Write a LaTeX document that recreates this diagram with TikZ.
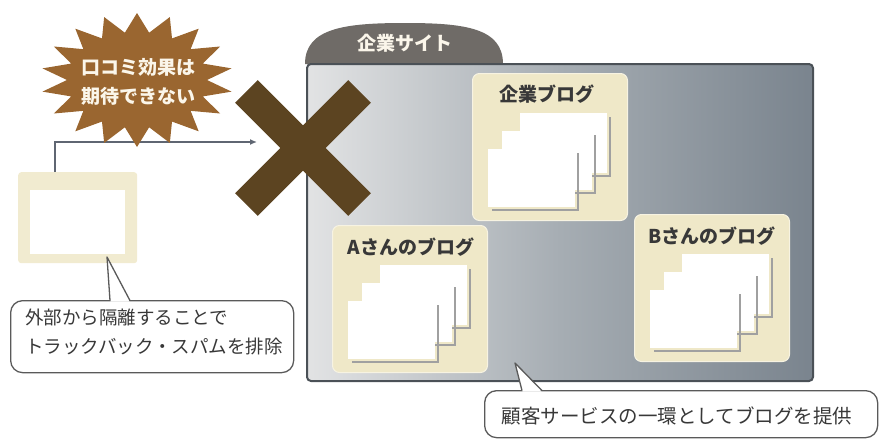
\documentclass[tikz,border=0pt]{standalone}
\usepackage{fontspec}
\newfontfamily\cjk{Noto Sans CJK JP}
\usetikzlibrary{arrows.meta}
\definecolor{burstc}{HTML}{9A6630}
\definecolor{xcol}{HTML}{5C4421}
\definecolor{tabc}{HTML}{6F6B67}
\definecolor{siteborder}{HTML}{4B5157}
\definecolor{siteleft}{HTML}{E2E3E4}
\definecolor{sitemid}{HTML}{A6ADB3}
\definecolor{siteright}{HTML}{7A848E}
\definecolor{cream}{HTML}{EFE8C8}
\definecolor{creamedge}{HTML}{F7F3E2}
\definecolor{shadowc}{HTML}{A0A0A0}
\definecolor{arrowc}{HTML}{5F6672}
\definecolor{calloutc}{HTML}{5A5A5A}
\definecolor{textc}{HTML}{383838}
\definecolor{lighttext}{HTML}{FBF6EA}
\tikzset{
  panel/.style={fill=cream, draw=creamedge, line width=1pt, rounded corners=7pt,
    minimum width=155pt, minimum height=147pt, anchor=north west, inner sep=0pt},
  paneltitle/.style={font=\cjk\bfseries\fontsize{19}{22}\selectfont, text=textc, inner sep=0pt},
  shadowline/.style={draw=shadowc, line width=1.8pt},
  callout/.style={fill=white, draw=calloutc, line width=1.3pt, rounded corners=12pt, inner sep=0pt},
  callouttext/.style={font=\cjk\fontsize{18.5}{29}\selectfont, text=textc, inner sep=0pt},
  pages/.pic={
    \fill[white] (48,40) rectangle (135,100);
    \draw[shadowline] (138,44) -- (138,103) -- (52,103);
    \fill[white] (30,58) rectangle (120,117);
    \draw[shadowline] (123,62) -- (123,120) -- (34,120);
    \fill[white] (16,76) rectangle (103,134);
    \draw[shadowline] (106,80) -- (106,137) -- (20,137);
  }
}
\begin{document}
\begin{tikzpicture}[x=1pt,y=-1pt]
\useasboundingbox (0,0) rectangle (880,439);

% ---------- site tab and site box ----------
\fill[tabc] (305,64) .. controls (305,28) and (345,23) .. (405,23)
  .. controls (465,23) and (503,28) .. (503,64) -- cycle;
\node[text=lighttext, font=\cjk\bfseries\fontsize{19}{22}\selectfont, inner sep=0pt] (tabt) at (405,43) {企業サイト};
\node[anchor=north west, minimum width=506pt, minimum height=317pt, inner sep=0pt,
  rounded corners=4pt, draw=siteborder, line width=2pt,
  left color=siteleft, right color=siteright, middle color=sitemid] (site) at (306,63) {};

% ---------- blog panels ----------
\node[panel] (pk) at (472,73) {};
\pic at (pk.north west) {pages};
\node[paneltitle] (pkt) at ([shift={(75,21)}]pk.north west) {企業ブログ};

\node[panel] (pa) at (332,225) {};
\pic at (pa.north west) {pages};
\node[paneltitle] (pat) at ([shift={(79,22)}]pa.north west) {Aさんのブログ};

\node[panel] (pb) at (634,214) {};
\pic at (pb.north west) {pages};
\node[paneltitle] (pbt) at ([shift={(78,22)}]pb.north west) {Bさんのブログ};

% ---------- external blog box ----------
\node[fill=cream!85!white, rounded corners=3pt, minimum width=119pt, minimum height=91pt,
  anchor=north west, inner sep=0pt] (ext) at (18,172) {};
\fill[white] (30,190) rectangle (125,254);

% ---------- arrow ----------
\coordinate (arrstart) at (55,172);
\coordinate (arrend) at (257,142);
\draw[arrowc, line width=1.5pt, -{Latex[length=7pt,width=6pt]}] (arrstart) |- (arrend);

% ---------- burst ----------
\fill[burstc] plot[samples at={0,1,...,35}, variable=\t]
  ({137+ifthenelse(mod(\t,2)==0,96,70)*cos(\t*10+10)},
   {80+ifthenelse(mod(\t,2)==0,67,48)*sin(\t*10+10)}) -- cycle;
\node[align=center, text=lighttext, font=\cjk\bfseries\fontsize{19}{29}\selectfont, inner sep=0pt] (bt) at (138,82) {口コミ効果は\\期待できない};

% ---------- X mark ----------
\coordinate (xm) at (303,148);
\fill[xcol, rotate around={45:(xm)}] (223,132) rectangle (383,164);
\fill[xcol, rotate around={-45:(xm)}] (223,132) rectangle (383,164);

% ---------- left callout ----------
\node[callout, anchor=north west, minimum width=283pt, minimum height=72pt] (c1) at (10,300) {};
\coordinate (c1tip) at (107,257);
\fill[white] (110.5,301.5) -- (c1tip) -- (129.5,301.5) -- cycle;
\draw[calloutc, line width=1.3pt, line join=round] (110,300.6) -- (c1tip) -- (130,300.6);
\node[callouttext, anchor=north west, align=left] (c1t) at (25,309) {外部から隔離することで\\トラックバック・スパムを排除};

% ---------- bottom callout ----------
\node[callout, anchor=north west, minimum width=393pt, minimum height=47pt] (c2) at (484,390) {};
\coordinate (c2tip) at (515,363);
\fill[white] (522.5,391.5) -- (c2tip) -- (541.5,391.5) -- cycle;
\draw[calloutc, line width=1.3pt, line join=round] (522,390.6) -- (c2tip) -- (542,390.6);
\node[callouttext, font=\cjk\fontsize{19.5}{22}\selectfont] (c2t) at (677,416) {顧客サービスの一環としてブログを提供};
\end{tikzpicture}
\end{document}
